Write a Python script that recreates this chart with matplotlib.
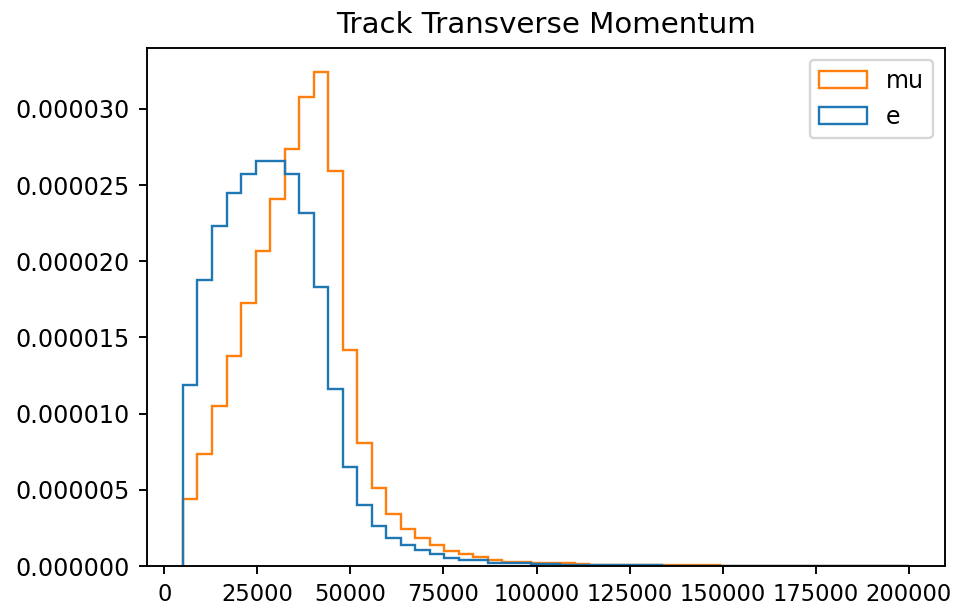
import numpy as np
import matplotlib

matplotlib.use("Agg")
import matplotlib.pyplot as plt
from matplotlib.ticker import FormatStrFormatter

# 50 bins of width 3900 between 5000 and 200000
bin_edges = np.linspace(5000, 200000, 51)

# normalised bin heights (units of 1e-6)
e_density = [
    11.9, 18.8, 22.3, 24.5, 25.7, 26.6, 26.6, 25.7, 23.2, 18.3,
    11.6, 6.5, 4.0, 2.6, 1.85, 1.37, 1.04, 0.77, 0.55, 0.40,
    0.38, 0.22, 0.20, 0.19, 0.12, 0.10, 0.09, 0.08, 0.07, 0.06,
    0.05, 0.04, 0.04, 0.03, 0.0, 0.0, 0.0, 0.0, 0.0, 0.0,
    0.0, 0.0, 0.0, 0.0, 0.0, 0.0, 0.0, 0.0, 0.0, 0.0,
]
mu_density = [
    4.38, 7.37, 10.5, 13.8, 17.25, 20.66, 24.08, 27.4, 30.8, 32.4,
    25.9, 14.2, 8.07, 5.1, 3.39, 2.43, 1.87, 1.37, 0.99, 0.77,
    0.60, 0.42, 0.26, 0.26, 0.18, 0.18, 0.17, 0.10, 0.09, 0.08,
    0.08, 0.07, 0.07, 0.06, 0.06, 0.05, 0.05, 0.0, 0.0, 0.0,
    0.0, 0.0, 0.0, 0.0, 0.0, 0.0, 0.0, 0.0, 0.0, 0.0,
]
labels = ["e", "mu"]

dpi = 171
fig = plt.figure(figsize=(955 / dpi, 604 / dpi), dpi=dpi)
ax = fig.add_axes([0.1536, 0.0629, 0.8359, 0.8581])

centers = (bin_edges[:-1] + bin_edges[1:]) / 2
ax.hist(
    [centers, centers],
    bins=bin_edges,
    weights=[np.array(e_density) * 1e-6, np.array(mu_density) * 1e-6],
    histtype="step",
    label=labels,
)

ax.yaxis.set_major_formatter(FormatStrFormatter("%.6f"))
ax.tick_params(axis="x", labelsize=9.5)
ax.set_title("Track Transverse Momentum", fontsize=12.3)
ax.legend(loc="upper right")
fig.savefig("out.png", dpi=dpi)
